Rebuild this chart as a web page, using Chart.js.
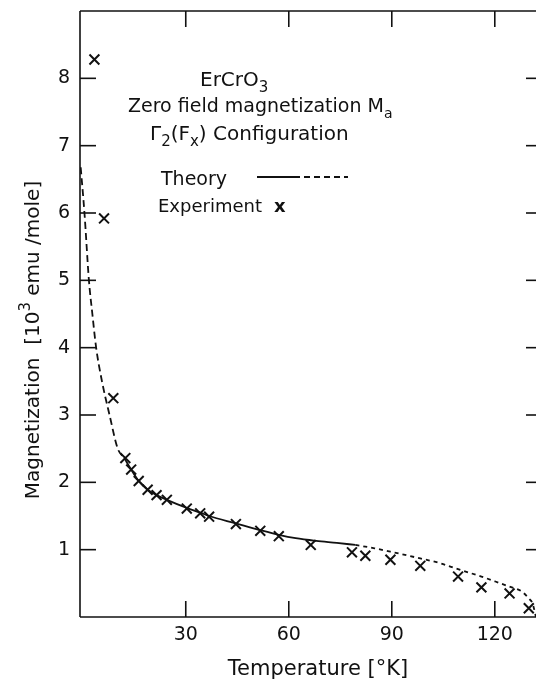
<!DOCTYPE html>
<html>
<head>
<meta charset="utf-8">
<script src="https://cdn.jsdelivr.net/npm/chart.js@4"></script>
<style>
  html, body { margin: 0; padding: 0; background: #fff; }
  #chart { display: block; }
</style>
</head>
<body>
<canvas id="chart" width="536" height="679"></canvas>
<script>
// ── Data ───────────────────────────────────────────────────────────────────

const X_MIN = -0.8, X_MAX = 132;
const Y_MIN = 0, Y_MAX = 9;
const X_TICKS = [30, 60, 90, 120];
const Y_TICKS = [1, 2, 3, 4, 5, 6, 7, 8];

// theory, low-T dashed part
const THEORY_HEAD_T = [-0.6, 0.5, 1.8, 2.8, 3.9, 5.6, 7.8, 10.2, 12.1];
const THEORY_HEAD_M = [6.68, 6.0, 5.0, 4.5, 4.0, 3.5, 3.0, 2.5, 2.36];

// theory, solid part
const THEORY_MID_T = [12.1, 14.1, 16.3, 18.9, 21.5, 24.5, 30.3, 34.2, 36.8, 44.6, 51.7, 57.1, 62, 68, 74, 79.4];
const THEORY_MID_M = [2.36, 2.19, 2.02, 1.89, 1.81, 1.74, 1.62, 1.55, 1.5, 1.39, 1.29, 1.22, 1.17, 1.13, 1.1, 1.07];

// theory, high-T short-dashed part
const THEORY_TAIL_T = [79.4, 85, 89.6, 98.3, 104, 109.3, 116.1, 120, 124.3, 127.8, 130, 131, 132];
const THEORY_TAIL_M = [1.07, 1.02, 0.97, 0.87, 0.8, 0.71, 0.6, 0.53, 0.45, 0.38, 0.27, 0.2, 0.0];

// experiment (x marks)
const EXP_T = [3.4, 6.2, 8.9, 12.4, 14.1, 16.3, 18.9, 21.5, 24.5, 30.3, 34.2, 36.8, 44.6, 51.7, 57.1, 66.4, 78.4, 82.3, 89.6, 98.3, 109.3, 116.1, 124.3, 129.9];
const EXP_M = [8.28, 5.92, 3.25, 2.36, 2.19, 2.02, 1.89, 1.81, 1.74, 1.61, 1.54, 1.49, 1.38, 1.28, 1.2, 1.07, 0.96, 0.91, 0.85, 0.76, 0.6, 0.44, 0.35, 0.13];

// ── Style ──────────────────────────────────────────────────────────────────

const INK = "#111";
const FONT = "'DejaVu Sans', sans-serif";
const TICK_LEN = 16;

const zip = (xs, ys) => xs.map((x, i) => ({ x, y: ys[i] }));

function font(size, weight) {
  return `${weight || "normal"} ${size}px ${FONT}`;
}

// text with sub/superscripts: runs = [[text, kind]], kind '' | 'sub' | 'sup'
function drawRich(ctx, runs, x, y, size, align) {
  const small = Math.round(size * 0.75);
  const widths = runs.map(([t, k]) => {
    ctx.font = font(k ? small : size);
    return ctx.measureText(t).width;
  });
  const total = widths.reduce((a, b) => a + b, 0);
  let cx = align === "center" ? x - total / 2 : x;
  runs.forEach(([t, k], i) => {
    ctx.font = font(k ? small : size);
    const dy = k === "sub" ? size * 0.3 : k === "sup" ? -size * 0.45 : 0;
    ctx.fillText(t, cx, y + dy);
    cx += widths[i];
  });
}

// ── Frame, inward ticks and annotations ────────────────────────────────────

const paperPlugin = {
  id: "paper",
  afterDraw(chart) {
    const { ctx, chartArea: a, scales: { x, y } } = chart;
    ctx.save();
    ctx.strokeStyle = INK;
    ctx.fillStyle = INK;
    ctx.lineWidth = 1.6;

    const seg = (x1, y1, x2, y2) => {
      ctx.beginPath(); ctx.moveTo(x1, y1); ctx.lineTo(x2, y2); ctx.stroke();
    };

    // frame (right edge falls just off the page)
    seg(a.left, a.top, a.left, a.bottom);
    seg(a.left, a.bottom, a.right, a.bottom);
    seg(a.left, a.top, a.right, a.top);

    X_TICKS.forEach(v => {
      const px = x.getPixelForValue(v);
      seg(px, a.bottom, px, a.bottom - TICK_LEN);
      seg(px, a.top, px, a.top + TICK_LEN);
    });
    Y_TICKS.forEach(v => {
      const py = y.getPixelForValue(v);
      seg(a.left, py, a.left + TICK_LEN, py);
      seg(a.right, py, a.right - 10, py);
    });

    ctx.textBaseline = "alphabetic";
    ctx.textAlign = "left";

    // axis titles
    ctx.save();
    ctx.translate(39, 340);
    ctx.rotate(-Math.PI / 2);
    drawRich(ctx, [["Magnetization  [10", ""], ["3", "sup"], [" emu /mole]", ""]], 0, 0, 20, "center");
    ctx.restore();
    drawRich(ctx, [["Temperature [°K]", ""]], 318, 675, 21, "center");

    // annotation block
    drawRich(ctx, [["ErCrO", ""], ["3", "sub"]], 200, 86, 20);
    drawRich(ctx, [["Zero field magnetization M", ""], ["a", "sub"]], 128, 112, 19);
    drawRich(ctx, [["Γ", ""], ["2", "sub"], ["(F", ""], ["x", "sub"], [") Configuration", ""]], 150, 140, 20);
    drawRich(ctx, [["Theory", ""]], 161, 185, 19);
    drawRich(ctx, [["Experiment", ""]], 158, 212, 18);
    ctx.font = font(18, "bold");
    ctx.fillText("x", 274, 212);

    // legend line: solid then dashed
    ctx.lineWidth = 2;
    seg(257, 177, 300, 177);
    ctx.setLineDash([6, 4]);
    seg(304, 177, 348, 177);
    ctx.restore();
  },
};

// ── Chart ──────────────────────────────────────────────────────────────────

const theoryLine = {
  showLine: true,
  pointRadius: 0,
  borderColor: INK,
  borderWidth: 1.8,
  cubicInterpolationMode: "monotone",
  fill: false,
};

new Chart(document.getElementById("chart"), {
  type: "scatter",
  data: {
    datasets: [
      { ...theoryLine, label: "Theory", data: zip(THEORY_HEAD_T, THEORY_HEAD_M), borderDash: [7, 4] },
      { ...theoryLine, label: "Theory", data: zip(THEORY_MID_T, THEORY_MID_M) },
      { ...theoryLine, label: "Theory", data: zip(THEORY_TAIL_T, THEORY_TAIL_M), borderDash: [4, 4] },
      {
        label: "Experiment",
        data: zip(EXP_T, EXP_M),
        showLine: false,
        pointStyle: "crossRot",
        pointRadius: 7,
        borderWidth: 2,
        borderColor: INK,
        backgroundColor: INK,
      },
    ],
  },
  options: {
    responsive: false,
    animation: false,
    layout: { autoPadding: false, padding: { top: 11, right: 0, left: 0, bottom: 0 } },
    plugins: { legend: { display: false }, tooltip: { enabled: false } },
    scales: {
      x: {
        type: "linear",
        min: X_MIN, max: X_MAX,
        afterBuildTicks: s => { s.ticks = X_TICKS.map(value => ({ value })); },
        afterFit: s => { s.height = 62; s.paddingLeft = 0; s.paddingRight = 0; },
        grid: { display: false, drawTicks: false },
        border: { display: false },
        ticks: { color: INK, font: { family: FONT, size: 19 }, padding: 7, maxRotation: 0 },
      },
      y: {
        type: "linear",
        min: Y_MIN, max: Y_MAX,
        afterBuildTicks: s => { s.ticks = Y_TICKS.map(value => ({ value })); },
        afterFit: s => { s.width = 80; s.paddingTop = 0; s.paddingBottom = 0; },
        grid: { display: false, drawTicks: false },
        border: { display: false },
        ticks: { color: INK, font: { family: FONT, size: 19 }, padding: 10 },
      },
    },
  },
  plugins: [paperPlugin],
});
</script>
</body>
</html>
